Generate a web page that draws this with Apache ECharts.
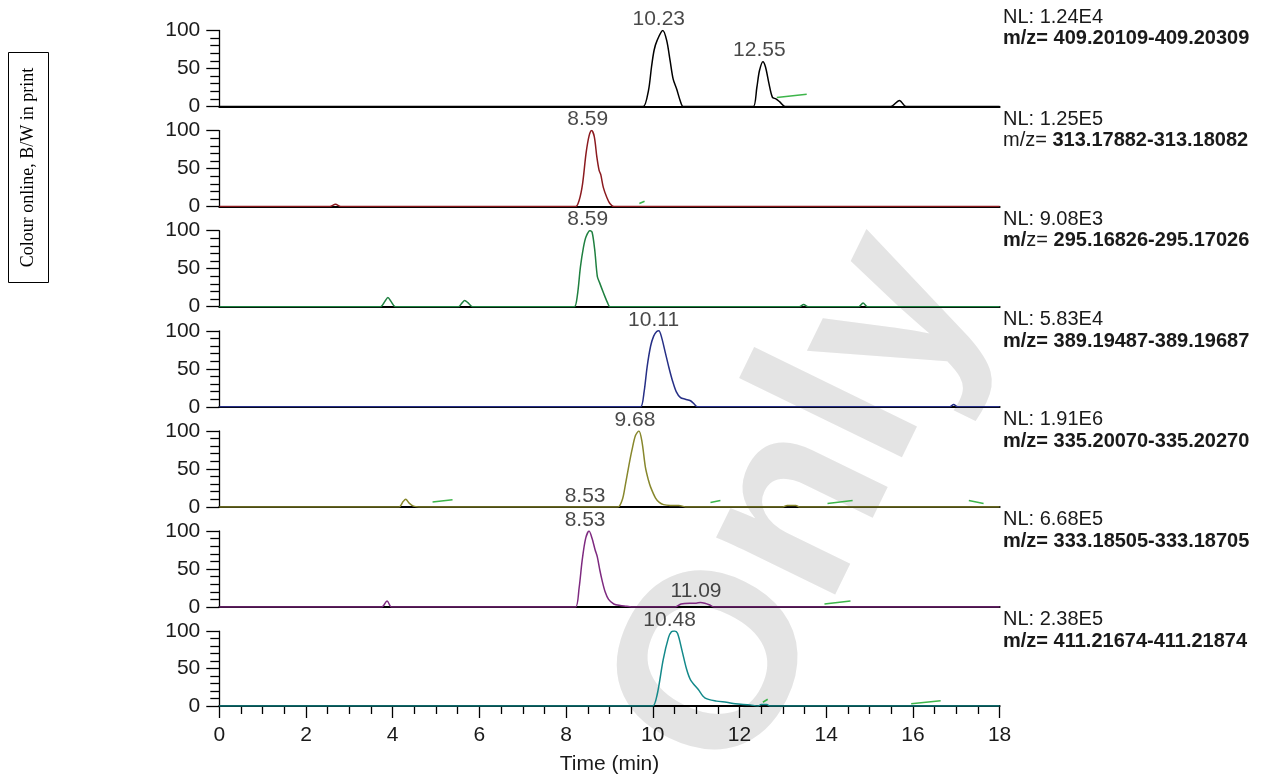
<!DOCTYPE html>
<html><head><meta charset="utf-8">
<script src="https://cdn.jsdelivr.net/npm/echarts@6/dist/echarts.min.js"></script>
<style>html,body{margin:0;padding:0;background:#fff}#c{width:1265px;height:776px}</style>
</head><body><div id="c"></div>
<script>
// ---------- data ----------
const nlLabels = ['NL: 1.24E4','NL: 1.25E5','NL: 9.08E3','NL: 5.83E4','NL: 1.91E6','NL: 6.68E5','NL: 2.38E5'];
const mzRanges = ['409.20109-409.20309','313.17882-313.18082','295.16826-295.17026','389.19487-389.19687','335.20070-335.20270','333.18505-333.18705','411.21674-411.21874'];
const traceColors = ['#000000','#8b1a1f','#1f8040','#262f86','#87872c','#7e2a80','#13898a'];
const xTickLabels = [0,2,4,6,8,10,12,14,16,18];

const trace1 = [[0,0],[9.6,0],[9.78,0],[9.9,21],[9.97,52],[10.03,74],[10.1,87],[10.23,100],[10.32,87],[10.4,60],[10.47,36],[10.55,23],[10.63,8],[10.7,0],[10.9,0],
  [12.15,0],[12.32,0],[12.4,25],[12.46,47],[12.54,59],[12.6,52],[12.68,30],[12.76,12],[12.84,10],[12.93,6],[13.05,0],[13.25,0],
  [15.3,0],[15.49,0],[15.69,8],[15.84,0],[16.0,0],[18,0]];
const trace2 = [[0,0],[2.4,0],[2.55,0],[2.68,3],[2.8,0],[2.95,0],[8.05,0],[8.22,0],[8.3,8],[8.38,30],[8.46,70],[8.53,93],[8.59,100],[8.65,92],[8.71,65],[8.76,48],[8.8,42],[8.86,25],[8.94,12],[9.01,4],[9.1,0],[9.3,0],[18,0]];
const trace3 = [[0,0],[3.55,0],[3.72,0],[3.82,7],[3.89,12],[3.96,7],[4.06,0],[4.2,0],[5.38,0],[5.52,0],[5.6,5],[5.66,8],[5.74,5],[5.84,0],[6.0,0],
  [8.02,0],[8.19,0],[8.26,15],[8.33,52],[8.4,78],[8.46,92],[8.55,100],[8.6,98],[8.66,75],[8.72,40],[8.77,32],[8.87,17],[8.95,6],[9.01,0],[9.2,0],
  [13.25,0],[13.38,0],[13.48,3],[13.58,0],[13.7,0],[14.62,0],[14.75,0],[14.85,5],[14.95,0],[15.1,0],[18,0]];
const trace4 = [[0,0],[9.55,0],[9.72,0],[9.8,20],[9.87,53],[9.95,80],[10.02,93],[10.09,99],[10.14,100],[10.2,92],[10.29,71],[10.37,52],[10.45,35],[10.54,20],[10.64,12],[10.75,10],[10.87,8],[10.95,4],[11.03,0],[11.2,0],
  [16.7,0],[16.85,0],[16.94,3],[17.03,0],[17.2,0],[18,0]];
const trace5 = [[0,0],[4.0,0],[4.15,0],[4.24,7],[4.3,10],[4.38,5],[4.48,1],[4.6,0],[9.05,0],[9.2,0],[9.3,10],[9.37,30],[9.45,55],[9.52,75],[9.6,94],[9.68,100],[9.75,86],[9.83,52],[9.9,35],[9.95,26],[10.06,12],[10.15,6],[10.25,3],[10.4,2],[10.6,2],[10.75,0],[10.9,0],
  [12.85,0],[13.0,0],[13.1,2],[13.3,2],[13.38,0],[13.5,0],[18,0]];
const trace6 = [[0,0],[3.6,0],[3.75,0],[3.87,8],[3.97,0],[4.1,0],[8.05,0],[8.22,0],[8.3,25],[8.37,61],[8.45,90],[8.53,100],[8.6,90],[8.67,75],[8.72,66],[8.78,48],[8.83,35],[8.9,20],[8.98,10],[9.1,4],[9.25,2],[9.4,1],[9.5,0],[9.7,0],
  [10.35,0],[10.52,0],[10.65,4],[10.85,5],[11.0,5],[11.1,6],[11.2,5],[11.3,3],[11.41,0],[11.6,0],[18,0]];
const trace7 = [[0,0],[9.85,0],[10.0,0],[10.1,15],[10.24,62],[10.36,91],[10.43,99],[10.5,100],[10.57,97],[10.67,75],[10.78,49],[10.87,35],[11.05,22],[11.2,11],[11.47,6.5],[11.7,5],[11.9,3],[12.24,1.5],[12.43,0],[12.5,2],[12.63,2],[12.7,0],[12.9,0],[18,0]];
const traces = [trace1,trace2,trace3,trace4,trace5,trace6,trace7];

const peakLabelPanels = [0,0,1,2,3,4,4,5,5,6];
const peakLabelTimes  = [10.23,12.55,8.59,8.59,10.11,9.68,8.53,8.53,11.09,10.48];
const peakLabelLevels = [100,60,100,100,100,100,0,100,6,100];

const segPanels = [0,1,4,4,4,4,5,6,6];
const segStart = [[12.86,12],[9.69,4],[4.92,6.5],[11.33,5.7],[14.03,4.4],[17.29,8.4],[13.96,4],[12.54,5],[15.96,3]];
const segEnd   = [[13.55,16],[9.81,7],[5.38,9.3],[11.56,8.4],[14.61,8.4],[17.63,4.4],[14.56,8],[12.65,9],[16.64,7]];

// ---------- layout ----------
const FONT = '"Liberation Sans", Arial, Helvetica, sans-serif';
const TXT = '#1a1a1a';
const GL = 219.3, GW = 780.3, TOP0 = 30.5, STEP = 100.1, GH = 76;
const N = 7;

const grids = [], xAxes = [], yAxes = [], series = [], graphics = [];
for (let i = 0; i < N; i++) {
  const top = TOP0 + STEP * i;
  const last = i === N - 1;
  grids.push({left: GL, width: GW, top: top, height: GH, containLabel: false});
  xAxes.push({
    gridIndex: i, type: 'value', min: 0, max: 18, interval: 2,
    axisLine: {show: true, onZero: false, lineStyle: {color: '#000', width: 2}},
    axisTick: {show: last, length: 12, lineStyle: {color: '#000', width: 1.3}},
    minorTick: {show: last, splitNumber: 4, length: 8, lineStyle: {color: '#000', width: 1.3}},
    axisLabel: {show: last, fontSize: 21, color: TXT, fontFamily: FONT, margin: 19,
      formatter: v => (xTickLabels.indexOf(v) >= 0 ? String(v) : '')},
    splitLine: {show: false}, minorSplitLine: {show: false},
    name: last ? 'Time (min)' : '', nameLocation: 'middle', nameGap: 48,
    nameTextStyle: {fontSize: 21, color: TXT, fontFamily: FONT}
  });
  yAxes.push({
    gridIndex: i, type: 'value', min: 0, max: 100, interval: 50,
    axisLine: {show: true, lineStyle: {color: '#000', width: 1.3}},
    axisTick: {show: true, length: 13, lineStyle: {color: '#000', width: 1.3}},
    minorTick: {show: true, splitNumber: 5, length: 9, lineStyle: {color: '#000', width: 1.3}},
    axisLabel: {fontSize: 21, color: TXT, fontFamily: FONT, margin: 19, padding: [4,0,0,0]},
    splitLine: {show: false}
  });
  series.push({
    type: 'line', xAxisIndex: i, yAxisIndex: i, data: traces[i],
    showSymbol: false, smooth: 0.3, z: 3,
    lineStyle: {color: traceColors[i], width: 1.5}
  });
  // right-side annotations
  let mz;
  if (i === 1) mz = '{r|m/z=}{b| ' + mzRanges[i] + '}';
  else if (i === 2) mz = '{b|m/}{r|z=}{b| ' + mzRanges[i] + '}';
  else mz = '{b|m/z= ' + mzRanges[i] + '}';
  graphics.push({
    type: 'text', x: 1003, y: top - (i === 0 ? 24 : 22),
    style: {
      text: '{r|' + nlLabels[i] + '}\n' + mz,
      rich: {
        r: {fontSize: 20, fontFamily: FONT, fill: TXT, lineHeight: 21.5},
        b: {fontSize: 20, fontFamily: FONT, fontWeight: 'bold', fill: TXT, lineHeight: 21.5}
      },
      align: 'left', verticalAlign: 'top'
    }
  });
}

// peak labels
for (let p = 0; p < N; p++) {
  const pts = [];
  peakLabelPanels.forEach((pi, k) => {
    if (pi === p) pts.push([peakLabelTimes[k], peakLabelLevels[k], peakLabelTimes[k].toFixed(2)]);
  });
  if (!pts.length) continue;
  series.push({
    type: 'scatter', xAxisIndex: p, yAxisIndex: p, data: pts, symbolSize: 1, z: 4,
    itemStyle: {color: 'rgba(0,0,0,0)'}, silent: true, clip: false,
    label: {show: true, position: 'top', distance: 0, offset: [-4, 0], fontSize: 21, color: TXT, fontFamily: FONT,
      formatter: d => d.value[2]}
  });
}

// green stray segments
segPanels.forEach((p, k) => {
  series.push({
    type: 'line', xAxisIndex: p, yAxisIndex: p, data: [segStart[k], segEnd[k]],
    showSymbol: false, z: 5, lineStyle: {color: '#3db54a', width: 1.5}
  });
});

// watermark
graphics.push({
  type: 'text', x: 802, y: 505, rotation: 64 * Math.PI / 180, z: -10,
  style: {text: 'Only', fontSize: 250, fontWeight: 'bold', fontFamily: FONT, fill: '#e4e4e4', align: 'center', verticalAlign: 'middle'}
});
// left note box
graphics.push({
  type: 'rect', shape: {x: 8.5, y: 52.5, width: 40, height: 230},
  style: {fill: 'none', stroke: '#000', lineWidth: 1}
});
graphics.push({
  type: 'text', x: 28.5, y: 167.5, rotation: Math.PI / 2,
  style: {text: 'Colour online, B/W in print', fontSize: 18, fontFamily: '"Liberation Serif", "Times New Roman", serif', fill: '#000', align: 'center', verticalAlign: 'middle'}
});

const chart = echarts.init(document.getElementById('c'), null, {renderer: 'canvas'});
chart.setOption({
  animation: false,
  backgroundColor: '#fff',
  grid: grids, xAxis: xAxes, yAxis: yAxes, series: series,
  graphic: {elements: graphics}
});
</script>
</body></html>
